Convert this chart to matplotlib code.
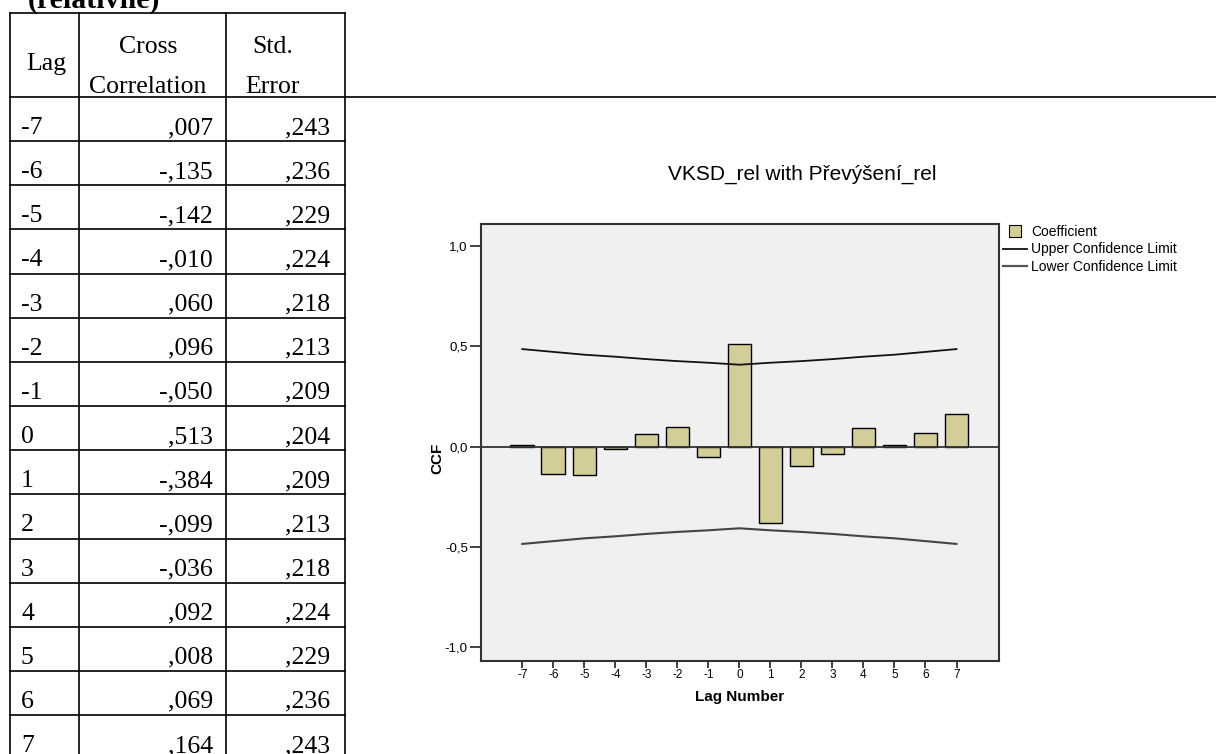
import matplotlib
matplotlib.use('Agg')
import matplotlib.pyplot as plt
from matplotlib.lines import Line2D
import numpy as np

lags = [-7, -6, -5, -4, -3, -2, -1, 0, 1, 2, 3, 4, 5, 6, 7]
cross_corr = [0.007, -0.135, -0.142, -0.010, 0.060, 0.096, -0.050, 0.513,
              -0.384, -0.099, -0.036, 0.092, 0.008, 0.069, 0.164]
std_err = [0.243, 0.236, 0.229, 0.224, 0.218, 0.213, 0.209, 0.204,
           0.209, 0.213, 0.218, 0.224, 0.229, 0.236, 0.243]
y_ticks = [-1.0, -0.5, 0.0, 0.5, 1.0]

title = 'VKSD_rel with Převýšení_rel'
heading = '(relativně)'

W, H = 1216, 754
bar_color = '#d3ce97'


def spss_num(v):
    # SPSS style: ",007" / "-,135"
    s = '{:.3f}'.format(v)
    return s.replace('0.', ',', 1)


def main():
    fig = plt.figure(figsize=(W / 100, H / 100), dpi=100)

    # overlay in pixel coordinates for the table and loose texts
    page = fig.add_axes([0, 0, 1, 1])
    page.set_xlim(0, W)
    page.set_ylim(H, 0)
    page.axis('off')

    serif = 'Liberation Serif'
    page.text(28, 8, heading, family=serif, fontsize=21.5, weight='bold',
              ha='left', va='baseline')

    # table grid
    col_x = [10, 79, 226, 345]
    top, head_bot, row_h = 13, 97, 44.15
    lw = 1.2
    for x in col_x:
        page.plot([x, x], [top, H + 5], color='black', lw=lw)
    page.plot([col_x[0], col_x[-1]], [top, top], color='black', lw=lw)
    page.plot([col_x[0], W], [head_bot, head_bot], color='black', lw=lw)
    for k in range(1, len(lags)):
        y = head_bot + row_h * k
        page.plot([col_x[0], col_x[-1]], [y, y], color='black', lw=lw)

    fs = 18.5
    page.text(26, 70, 'Lag', family=serif, fontsize=fs, ha='left', va='baseline')
    page.text(148, 53, 'Cross', family=serif, fontsize=fs, ha='center', va='baseline')
    page.text(148, 93, 'Correlation', family=serif, fontsize=fs, ha='center', va='baseline')
    page.text(273, 53, 'Std.', family=serif, fontsize=fs, ha='center', va='baseline')
    page.text(273, 93, 'Error', family=serif, fontsize=fs, ha='center', va='baseline')

    for k, (lag, cc, se) in enumerate(zip(lags, cross_corr, std_err)):
        yb = head_bot + row_h * k + 37
        page.text(21, yb, str(lag), family=serif, fontsize=fs, ha='left', va='baseline')
        page.text(213, yb, spss_num(cc), family=serif, fontsize=fs, ha='right', va='baseline')
        page.text(330, yb, spss_num(se), family=serif, fontsize=fs, ha='right', va='baseline')

    # CCF chart
    sans = 'Liberation Sans'
    left, right, ptop, pbot = 481, 999, 224, 661
    ax = fig.add_axes([left / W, 1 - pbot / H, (right - left) / W, (pbot - ptop) / H])
    ax.set_facecolor('#f0f0f0')

    lag_arr = np.array(lags)
    se_arr = np.array(std_err)
    ax.bar(lag_arr, cross_corr, width=0.76, color=bar_color, edgecolor='black',
           linewidth=1.0, zorder=2)
    ax.axhline(0, color='#333333', lw=1.3, zorder=3)
    ax.plot(lag_arr, 2 * se_arr, color='#111111', lw=1.3, zorder=3)
    ax.plot(lag_arr, -2 * se_arr, color='#444444', lw=1.5, zorder=3)

    ax.set_xlim(-8.33, 8.37)
    ax.set_ylim(-1.07, 1.11)
    ax.set_xticks(lags)
    ax.set_xticklabels([str(v) for v in lags], family=sans, fontsize=8.5)
    ax.set_yticks(y_ticks)
    ax.set_yticklabels([('{:.1f}'.format(v)).replace('.', ',') for v in y_ticks],
                       family=sans, fontsize=9.5)
    ax.tick_params(direction='out', length=8, width=1.3, color='#333333', pad=1.5)
    ax.tick_params(axis='x', length=5, pad=1)
    for s in ax.spines.values():
        s.set_color('#333333')
        s.set_linewidth(1.5)

    page.text(437, 458, 'CCF', family=sans, fontsize=11, weight='bold',
              rotation=90, ha='center', va='center')
    page.text(740, 697, 'Lag Number', family=sans, fontsize=11, weight='bold',
              ha='center', va='center')
    page.text(802, 174, title, family=sans, fontsize=15, ha='center', va='center')

    handles = [
        Line2D([], [], marker='s', markersize=8.6, markerfacecolor=bar_color,
               markeredgecolor='black', markeredgewidth=0.8, linestyle='none'),
        Line2D([], [], color='#111111', lw=1.3),
        Line2D([], [], color='#555555', lw=1.6),
    ]
    labels = ['Coefficient', 'Upper Confidence Limit', 'Lower Confidence Limit']
    fig.legend(handles, labels, loc='upper left',
               bbox_to_anchor=(1003 / W, 1 - 225 / H), frameon=False,
               prop={'family': sans, 'size': 10}, handlelength=1.7,
               handletextpad=0.3, labelspacing=0.25, borderaxespad=0, borderpad=0)

    fig.savefig('out.png', dpi=100)


if __name__ == "__main__":
    main()
